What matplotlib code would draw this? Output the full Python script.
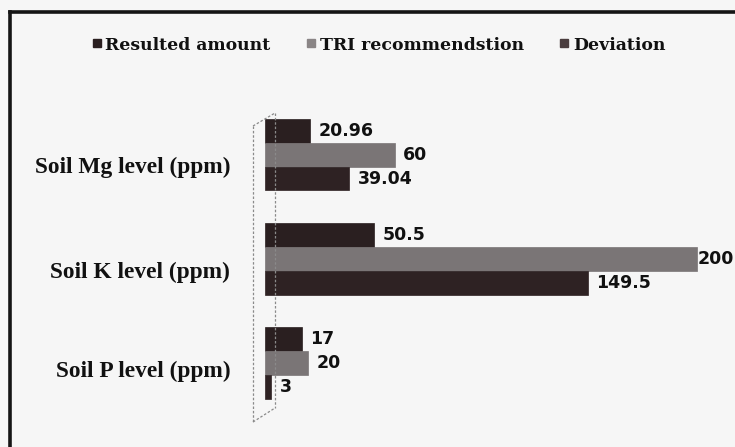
import matplotlib
matplotlib.use("Agg")
import matplotlib.pyplot as plt
from matplotlib.lines import Line2D
import matplotlib.transforms as mtransforms
import numpy as np

# ---- data ----
categories = ["Soil P level (ppm)", "Soil K level (ppm)", "Soil Mg level (ppm)"]
series_names = ["Resulted amount", "TRI recommendstion", "Deviation"]
resulted = [17, 50.5, 20.96]
tri = [20, 200, 60]
deviation = [3, 149.5, 39.04]

colors = ["#2a1f20", "#7a7576", "#2e2223"]

W, H = 735, 447
fig = plt.figure(figsize=(W / 100, H / 100), dpi=100, facecolor="#f6f6f6")

def fx(px):
    return px / W

def fy(py):
    return 1 - py / H

# axes placement (pixels): left 265, right 735, top 110, bottom 430
ax = fig.add_axes([fx(265), fy(430), fx(735) - fx(265), (430 - 110) / H])
ax.set_facecolor("none")
ax.set_xlim(0, 470 / 2.16)
ax.set_ylim(-0.642, 2.427)

y = np.arange(len(categories))
h = 0.23
series = [resulted, tri, deviation]
offsets = [h, 0, -h]
for vals, off, col in zip(series, offsets, colors):
    bars = ax.barh(y + off, vals, height=h, color=col, edgecolor=col, linewidth=0.5)
    anns = ax.bar_label(bars, labels=[f"{v:g}" for v in vals], padding=6,
                        fontsize=12.5, fontweight="bold", family="DejaVu Sans",
                        color="#111111")
    for v, a in zip(vals, anns):
        if v == max(tri):
            a.xyann = (0.3, 0)

for s in ax.spines.values():
    s.set_visible(False)
ax.set_xticks([])
ax.set_yticks(y)
ax.set_yticklabels(categories, family="Liberation Serif", fontweight="bold",
                   fontsize=16.8, color="#111111")
ax.tick_params(axis="y", length=0, pad=25)
for lab, dy in zip(ax.get_yticklabels(), [-6, -11, -10]):
    lab.set_transform(lab.get_transform() +
                      mtransforms.ScaledTranslation(0, dy / 100, fig.dpi_scale_trans))

# dotted 3D wall lines
def pline(x0, y0, x1, y1, **kw):
    fig.add_artist(Line2D([fx(x0), fx(x1)], [fy(y0), fy(y1)], transform=fig.transFigure, **kw))

wall = dict(color="#8a8a8a", linewidth=0.9, linestyle=(0, (2, 1.5)))
pline(253, 126, 253, 422, **wall)
pline(275, 113, 275, 408, **wall)
pline(253, 422, 275, 408, **wall)
pline(253, 126, 275, 113, **wall)

# frame (top and left visible)
frame = dict(color="#151515", linewidth=2.6, solid_capstyle="projecting")
pline(9.5, 11.5, 735, 11.5, **frame)
pline(9.5, 11.5, 9.5, 447, **frame)

# legend
handles = [Line2D([], [], marker="s", linestyle="none", markersize=6,
                  markerfacecolor=c, markeredgecolor=c) for c in ["#2a1f20", "#8a8586", "#4a3d3e"]]
leg = fig.legend(handles, series_names, loc="center", bbox_to_anchor=(fx(379), fy(45)),
                 ncol=3, frameon=False, handlelength=0.5, handletextpad=0.25,
                 columnspacing=2.1,
                 prop=dict(family="DejaVu Serif", weight="bold", size=12.4))
for t in leg.get_texts():
    t.set_color("#111111")

fig.savefig("out.png", dpi=100, facecolor=fig.get_facecolor())
